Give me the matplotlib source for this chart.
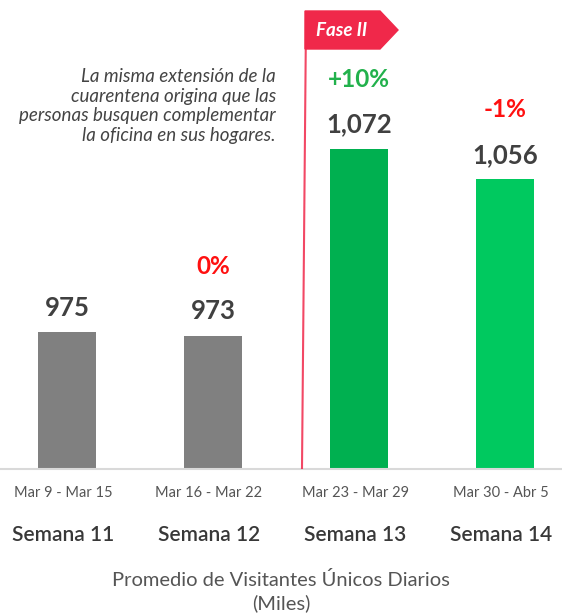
import matplotlib.pyplot as plt
from matplotlib.patches import Polygon
from matplotlib.lines import Line2D

plt.rcParams['font.family'] = ['Lato', 'DejaVu Sans']

semanas = ['Semana 11', 'Semana 12', 'Semana 13', 'Semana 14']
fechas = ['Mar 9 - Mar 15', 'Mar 16 - Mar 22', 'Mar 23 - Mar 29', 'Mar 30 - Abr 5']
visitantes = [975, 973, 1072, 1056]
etiquetas = ['975', '973', '1,072', '1,056']
cambios = ['', '0%', '+10%', '-1%']
colores = ['#808080', '#808080', '#00b050', '#00c95f']
color_cambio = ['#ff1010', '#ff1010', '#22b14c', '#ff1010']

W, H = 562, 614
fig = plt.figure(figsize=(W / 100, H / 100), dpi=100)

def fy(py):
    return 1 - py / H

# axes: baseline at y=468px, full width
ax = fig.add_axes([0, fy(468), 1, 468 / H])
ymin = 903
per_px = 0.53
ax.set_ylim(ymin, ymin + 468 * per_px)
ax.set_xlim(-67 / 146, (562 - 67) / 146)
x = range(len(visitantes))
ax.bar(x, [v - ymin for v in visitantes], bottom=ymin, width=0.40, color=colores)
for s in ax.spines.values():
    s.set_visible(False)
ax.set_xticks([])
ax.set_yticks([])
ax.patch.set_alpha(0)

for i, v in enumerate(visitantes):
    ax.annotate(etiquetas[i], (i, v), xytext=(0, 9), textcoords='offset points',
                ha='center', va='bottom', fontsize=18.5, fontweight='bold', color='#404040')
    if cambios[i]:
        ax.annotate(cambios[i], (i, v), xytext=(0, 42), textcoords='offset points',
                    ha='center', va='bottom', fontsize=17.5, fontweight='bold',
                    color=color_cambio[i])

# baseline
fig.add_artist(Line2D([0, 1], [fy(469), fy(469)], transform=fig.transFigure,
                      color='#d9d9d9', lw=1.5))

# Fase II marker
fig.add_artist(Line2D([306 / W, 302 / W], [fy(20), fy(468)], transform=fig.transFigure,
                      color='#f0284a', lw=1.5, alpha=0.85))
flag = Polygon([(305 / W, fy(11)), (380 / W, fy(11)), (398 / W, fy(30)),
                (380 / W, fy(49)), (305 / W, fy(49))], closed=True,
               transform=fig.transFigure, color='#f0284a')
fig.add_artist(flag)
fig.text(342 / W, fy(31), 'Fase II', ha='center', va='center', color='white',
         fontsize=13.5, fontweight='bold', style='italic')

nota = ('La misma extensión de la\ncuarentena origina que las\n'
        'personas busquen complementar\nla oficina en sus hogares.')
fig.text(276 / W, fy(106), nota, ha='right', va='center', fontsize=13.5,
         style='italic', color='#444444', linespacing=1.18)

for i in range(len(semanas)):
    px = (63 + 146 * i) / W
    fig.text(px, fy(493), fechas[i], ha='center', va='center', fontsize=10.5, color='#555555')
    fig.text(px, fy(535), semanas[i], ha='center', va='center', fontsize=15,
             fontweight='semibold', color='#383838')

fig.text(0.5, fy(580), 'Promedio de Visitantes Únicos Diarios', ha='center', va='center',
         fontsize=14.5, color='#555555')
fig.text(0.5, fy(603), '(Miles)', ha='center', va='center', fontsize=14.5, color='#555555')

fig.savefig('out.png', dpi=100)
